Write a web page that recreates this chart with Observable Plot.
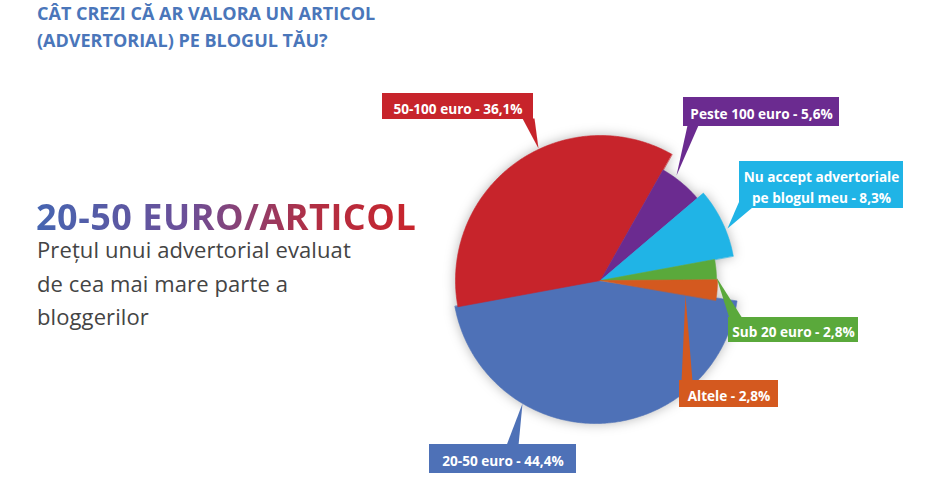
<!DOCTYPE html>
<html>
<head>
<meta charset="utf-8">
<script src="https://cdn.jsdelivr.net/npm/d3@7"></script>
<script src="https://cdn.jsdelivr.net/npm/@observablehq/plot@0.6"></script>
<style>
  html, body { margin: 0; padding: 0; background: #fff; }
  #wrap { position: relative; width: 930px; height: 487px; overflow: hidden; font-family: "Open Sans", sans-serif; }
  #chart { position: absolute; left: 0; top: 0; }
  .title { position: absolute; left: 37px; top: 0px; font-size: 18px; line-height: 27px; font-weight: 700; color: #4a76ba; white-space: nowrap; }
  .big { position: absolute; left: 36px; top: 201.5px; font-size: 36px; line-height: 30px; font-weight: 700; white-space: nowrap; letter-spacing: 0.5px;
         background: linear-gradient(90deg, #4665b1 0%, #6c4f98 40%, #b02f45 72%, #c9242b 100%);
         -webkit-background-clip: text; background-clip: text; color: transparent; }
  .sub { position: absolute; left: 37px; top: 233px; font-size: 22px; line-height: 33.5px; color: #444; white-space: nowrap; letter-spacing: 0.1px; }
</style>
</head>
<body>
<div id="wrap">
  <div id="chart"></div>
  <div class="title">CÂT CREZI CĂ AR VALORA UN ARTICOL<br>(ADVERTORIAL) PE BLOGUL TĂU?</div>
  <div class="big">20-50 EURO/ARTICOL</div>
  <div class="sub">Prețul unui advertorial evaluat<br>de cea mai mare parte a<br>bloggerilor</div>
</div>
<script>
// ---- data ----
const categories = ["Peste 100 euro", "Nu accept advertoriale pe blogul meu", "Sub 20 euro", "Altele", "20-50 euro", "50-100 euro"];
const shares = [5.6, 8.3, 2.8, 2.8, 44.4, 36.1];
const labelTexts = ["Peste 100 euro - 5,6%", "Nu accept advertoriale\npe blogul meu - 8,3%", "Sub 20 euro - 2,8%", "Altele - 2,8%", "20-50 euro - 44,4%", "50-100 euro - 36,1%"];
const colors = ["#6b2b90", "#20b4e6", "#5aa93b", "#d4591f", "#4e71b7", "#c7242b"];

// ---- layout (styling, not data) ----
const center = {x: 600, y: 280};
const startDeg = 29.5;
const sliceStyle = {
  "Peste 100 euro": {r: 127, dx: 0, dy: 0},
  "Nu accept advertoriale pe blogul meu": {r: 135, dx: 0, dy: 0},
  "Sub 20 euro": {r: 116, dx: 0, dy: 0},
  "Altele": {r: 117, dx: 0, dy: 0},
  "20-50 euro": {r: 143, dx: -5, dy: 0},
  "50-100 euro": {r: 145, dx: 0, dy: 0}
};
const drawOrder = ["20-50 euro", "50-100 euro", "Peste 100 euro", "Nu accept advertoriale pe blogul meu", "Sub 20 euro", "Altele"];
const labelBoxes = {
  "Peste 100 euro": {x1: 683, x2: 839, y1: 97, y2: 126, base: [[687, 125], [698, 125]], tip: [676, 175]},
  "Nu accept advertoriale pe blogul meu": {x1: 739, x2: 903, y1: 161, y2: 208, base: [[740, 198], [752, 207]], tip: [727, 228]},
  "Sub 20 euro": {x1: 728, x2: 858, y1: 317, y2: 342, base: [[729, 318], [742, 318]], tip: [716, 277]},
  "Altele": {x1: 679, x2: 778, y1: 380, y2: 407, base: [[681, 381], [692, 381]], tip: [685, 295]},
  "20-50 euro": {x1: 429, x2: 576, y1: 444, y2: 473, base: [[506, 445], [518, 445]], tip: [522, 403]},
  "50-100 euro": {x1: 382, x2: 533, y1: 93, y2: 119, base: [[522, 118], [534, 118]], tip: [538, 148]}
};

// ---- build slice polygons from the shares ----
const total = d3.sum(shares);
const slices = [];
let acc = startDeg;
categories.forEach((c, i) => {
  const span = shares[i] / total * 360;
  slices.push({key: c, a0: acc, a1: acc + span, color: colors[i], text: labelTexts[i]});
  acc += span;
});
const polyPoints = [];
for (const key of drawOrder) {
  const s = slices.find(d => d.key === key);
  const st = sliceStyle[key];
  const cx = center.x + st.dx, cy = center.y + st.dy;
  const a0 = key === "20-50 euro" ? s.a0 - 1.5 : s.a0;
  polyPoints.push({key, color: s.color, x: cx, y: cy});
  const n = Math.max(4, Math.ceil((s.a1 - a0) / 0.5));
  for (let k = 0; k <= n; k++) {
    const a = (a0 + (s.a1 - a0) * k / n) * Math.PI / 180;
    polyPoints.push({key, color: s.color, x: cx + st.r * Math.sin(a), y: cy - st.r * Math.cos(a)});
  }
}

const pointerPoints = [];
const boxes = [];
for (const s of slices) {
  const b = labelBoxes[s.key];
  for (const p of [b.base[0], b.tip, b.base[1]]) pointerPoints.push({key: s.key, color: s.color, x: p[0], y: p[1]});
  boxes.push({key: s.key, color: s.color, text: s.text, ...b});
}

const chart = Plot.plot({
  width: 930,
  height: 487,
  margin: 0,
  x: {domain: [0, 930], range: [0, 930], axis: null},
  y: {domain: [0, 487], range: [0, 487], axis: null},
  color: {type: "identity"},
  style: {fontFamily: "Open Sans, sans-serif", background: "transparent"},
  marks: [
    Plot.line(polyPoints, {x: "x", y: "y", z: "key", fill: "color", stroke: "color", strokeWidth: 0.6, curve: "linear-closed"}),
    Plot.line(pointerPoints, {x: "x", y: "y", z: "key", fill: "color", stroke: "none", curve: "linear-closed"}),
    Plot.rect(boxes, {x1: "x1", x2: "x2", y1: "y1", y2: "y2", fill: "color"}),
    Plot.text(boxes, {x: d => (d.x1 + d.x2) / 2, y: d => (d.y1 + d.y2) / 2 + 0.5, text: "text", fill: "white",
      fontWeight: 700, fontSize: 13.6, textAnchor: "middle", lineAnchor: "middle", lineHeight: 1.6})
  ]
});
document.getElementById("chart").appendChild(chart);
const g = chart.querySelector('g[aria-label="line"]');
if (g) g.style.filter = "drop-shadow(0px 0px 6px rgba(0,0,0,0.28))";
</script>
</body>
</html>
